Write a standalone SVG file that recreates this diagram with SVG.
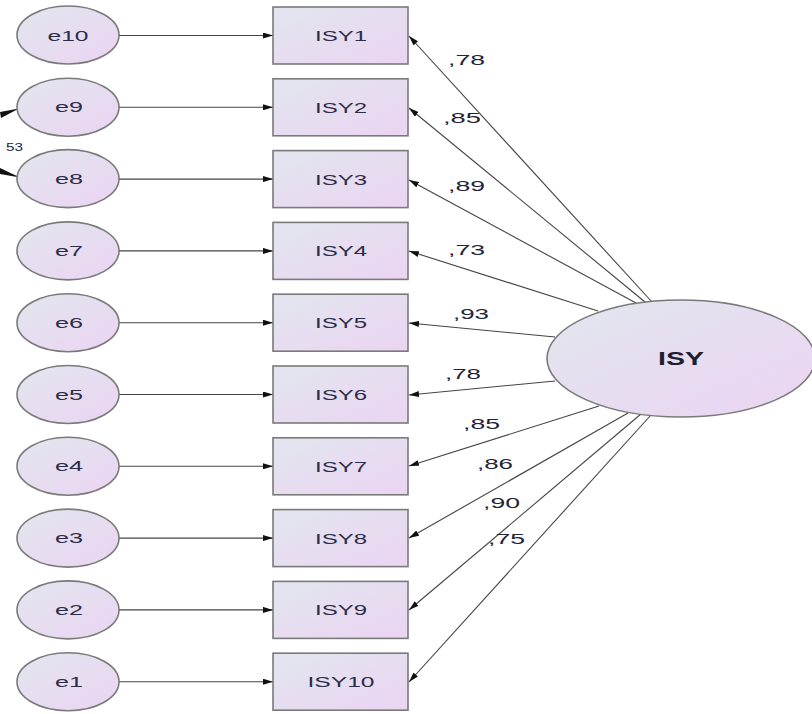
<svg xmlns="http://www.w3.org/2000/svg" width="812" height="714" viewBox="0 0 812 714">
<defs>
<linearGradient id="g" x1="0" y1="0" x2="1" y2="1">
<stop offset="0" stop-color="#e2e6ef"/>
<stop offset="1" stop-color="#ebd4f2"/>
</linearGradient>
<marker id="ah" viewBox="0 0 10 6" refX="10" refY="3" markerWidth="10" markerHeight="6" markerUnits="userSpaceOnUse" orient="auto">
<path d="M0,0 L10,3 L0,6 Z" fill="#111"/>
</marker>
<style>
.n{fill:url(#g);stroke:#7a7a7a;stroke-width:1.6}
.t{font-family:"Liberation Sans",Arial,sans-serif;font-size:14px;fill:#2c2c48;text-anchor:middle}
.l{font-family:"Liberation Sans",Arial,sans-serif;font-size:15px;fill:#22223a}
.c{stroke:#444;stroke-width:1.1;fill:none;marker-end:url(#ah)}
</style>
</defs>
<rect width="812" height="714" fill="#fff"/>
<g id="connectors">
<line class="c" x1="119" y1="35.5" x2="273" y2="35.5"/>
<line class="c" x1="119" y1="107.3" x2="273" y2="107.3"/>
<line class="c" x1="119" y1="179.1" x2="273" y2="179.1"/>
<line class="c" x1="119" y1="250.9" x2="273" y2="250.9"/>
<line class="c" x1="119" y1="322.7" x2="273" y2="322.7"/>
<line class="c" x1="119" y1="394.5" x2="273" y2="394.5"/>
<line class="c" x1="119" y1="466.3" x2="273" y2="466.3"/>
<line class="c" x1="119" y1="538.1" x2="273" y2="538.1"/>
<line class="c" x1="119" y1="609.9" x2="273" y2="609.9"/>
<line class="c" x1="119" y1="681.7" x2="273" y2="681.7"/>
<line class="c" x1="652" y1="302" x2="409" y2="36"/>
<line class="c" x1="645" y1="302" x2="409" y2="108"/>
<line class="c" x1="636" y1="303" x2="409" y2="180"/>
<line class="c" x1="598" y1="311" x2="409" y2="251"/>
<line class="c" x1="555" y1="337" x2="409" y2="323"/>
<line class="c" x1="555" y1="381" x2="409" y2="395"/>
<line class="c" x1="599" y1="406" x2="409" y2="466"/>
<line class="c" x1="628" y1="413" x2="409" y2="538"/>
<line class="c" x1="641" y1="414" x2="409" y2="610"/>
<line class="c" x1="651" y1="415" x2="409" y2="682"/>
<polygon points="0,112 19,108.5 1,118" fill="#111"/>
<polygon points="0,168 20,177.5 0,174" fill="#111"/>
</g>
<text x="23" y="151" font-family="Liberation Sans,Arial,sans-serif" font-size="11" fill="#22224a" text-anchor="end" textLength="17" lengthAdjust="spacingAndGlyphs">53</text>
<g id="loadings">
<text class="l" x="448" y="65" textLength="37" lengthAdjust="spacingAndGlyphs">,78</text>
<text class="l" x="443" y="123" textLength="38" lengthAdjust="spacingAndGlyphs">,85</text>
<text class="l" x="448" y="191" textLength="37" lengthAdjust="spacingAndGlyphs">,89</text>
<text class="l" x="448" y="255" textLength="37" lengthAdjust="spacingAndGlyphs">,73</text>
<text class="l" x="453" y="319" textLength="36" lengthAdjust="spacingAndGlyphs">,93</text>
<text class="l" x="445" y="379" textLength="36" lengthAdjust="spacingAndGlyphs">,78</text>
<text class="l" x="463" y="429" textLength="37" lengthAdjust="spacingAndGlyphs">,85</text>
<text class="l" x="477" y="469" textLength="36" lengthAdjust="spacingAndGlyphs">,86</text>
<text class="l" x="483" y="508" textLength="37" lengthAdjust="spacingAndGlyphs">,90</text>
<text class="l" x="488" y="544" textLength="37" lengthAdjust="spacingAndGlyphs">,75</text>
</g>
<g id="e10"><ellipse class="n" cx="68" cy="35" rx="51" ry="29"/><text class="t" x="68" y="40.5" textLength="41" lengthAdjust="spacingAndGlyphs">e10</text></g>
<g id="e9"><ellipse class="n" cx="68" cy="107.3" rx="51" ry="29"/><text class="t" x="69" y="112.3" textLength="28" lengthAdjust="spacingAndGlyphs">e9</text></g>
<g id="e8"><ellipse class="n" cx="68" cy="178.6" rx="51" ry="29"/><text class="t" x="69" y="183.6" textLength="28" lengthAdjust="spacingAndGlyphs">e8</text></g>
<g id="e7"><ellipse class="n" cx="68" cy="250.9" rx="51" ry="29"/><text class="t" x="69" y="255.9" textLength="28" lengthAdjust="spacingAndGlyphs">e7</text></g>
<g id="e6"><ellipse class="n" cx="68" cy="322.7" rx="51" ry="29"/><text class="t" x="69" y="327.7" textLength="28" lengthAdjust="spacingAndGlyphs">e6</text></g>
<g id="e5"><ellipse class="n" cx="68" cy="394.5" rx="51" ry="29"/><text class="t" x="69" y="399.5" textLength="28" lengthAdjust="spacingAndGlyphs">e5</text></g>
<g id="e4"><ellipse class="n" cx="68" cy="466.3" rx="51" ry="29"/><text class="t" x="69" y="471.3" textLength="28" lengthAdjust="spacingAndGlyphs">e4</text></g>
<g id="e3"><ellipse class="n" cx="68" cy="538.1" rx="51" ry="29"/><text class="t" x="69" y="543.1" textLength="28" lengthAdjust="spacingAndGlyphs">e3</text></g>
<g id="e2"><ellipse class="n" cx="68" cy="609.9" rx="51" ry="29"/><text class="t" x="69" y="614.9" textLength="28" lengthAdjust="spacingAndGlyphs">e2</text></g>
<g id="e1"><ellipse class="n" cx="68" cy="681.7" rx="51" ry="29"/><text class="t" x="69" y="686.7" textLength="28" lengthAdjust="spacingAndGlyphs">e1</text></g>
<g id="ISY1"><rect class="n" x="273" y="7" width="135" height="57"/><text class="t" x="341" y="41" textLength="52" lengthAdjust="spacingAndGlyphs">ISY1</text></g>
<g id="ISY2"><rect class="n" x="273" y="78.8" width="135" height="57"/><text class="t" x="341" y="112.8" textLength="52" lengthAdjust="spacingAndGlyphs">ISY2</text></g>
<g id="ISY3"><rect class="n" x="273" y="150.6" width="135" height="57"/><text class="t" x="341" y="184.6" textLength="52" lengthAdjust="spacingAndGlyphs">ISY3</text></g>
<g id="ISY4"><rect class="n" x="273" y="222.4" width="135" height="57"/><text class="t" x="341" y="256.4" textLength="52" lengthAdjust="spacingAndGlyphs">ISY4</text></g>
<g id="ISY5"><rect class="n" x="273" y="294.2" width="135" height="57"/><text class="t" x="341" y="328.2" textLength="52" lengthAdjust="spacingAndGlyphs">ISY5</text></g>
<g id="ISY6"><rect class="n" x="273" y="366" width="135" height="57"/><text class="t" x="341" y="400" textLength="52" lengthAdjust="spacingAndGlyphs">ISY6</text></g>
<g id="ISY7"><rect class="n" x="273" y="437.8" width="135" height="57"/><text class="t" x="341" y="471.8" textLength="52" lengthAdjust="spacingAndGlyphs">ISY7</text></g>
<g id="ISY8"><rect class="n" x="273" y="509.6" width="135" height="57"/><text class="t" x="341" y="543.6" textLength="52" lengthAdjust="spacingAndGlyphs">ISY8</text></g>
<g id="ISY9"><rect class="n" x="273" y="581.4" width="135" height="57"/><text class="t" x="341" y="615.4" textLength="52" lengthAdjust="spacingAndGlyphs">ISY9</text></g>
<g id="ISY10"><rect class="n" x="273" y="653.2" width="135" height="57"/><text class="t" x="341" y="687.2" textLength="67" lengthAdjust="spacingAndGlyphs">ISY10</text></g>
<g id="ISY"><ellipse class="n" cx="681" cy="358.5" rx="134" ry="58.5"/><text x="681" y="365" font-family="Liberation Sans,Arial,sans-serif" font-size="18" font-weight="bold" fill="#1e1e2e" text-anchor="middle" textLength="46" lengthAdjust="spacingAndGlyphs">ISY</text></g>
</svg>
